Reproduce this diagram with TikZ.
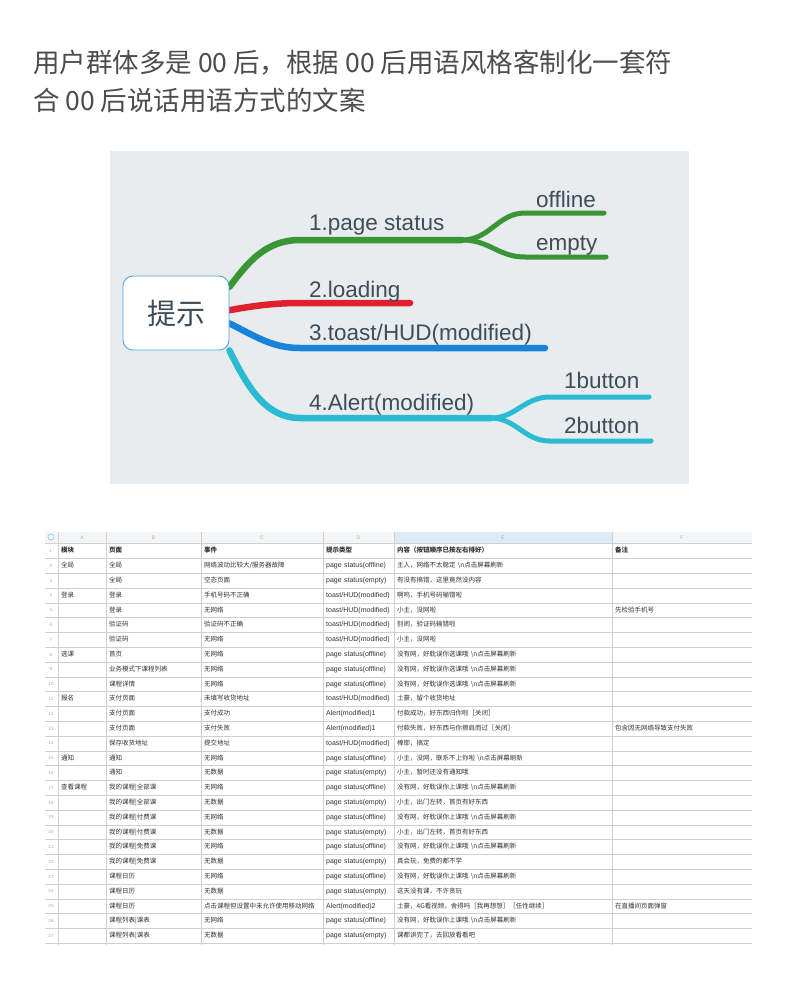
\documentclass[tikz,border=0pt]{standalone}
\usepackage{fontspec}
\setmainfont{Liberation Sans}
\newfontfamily\cjk{Noto Sans CJK SC}
\newfontfamily\latin{Liberation Sans}
\usepackage{tikz}
\usetikzlibrary{matrix, backgrounds}

\definecolor{panelGray}{HTML}{E8ECEF}
\definecolor{brGreen}{HTML}{3A9634}
\definecolor{brRed}{HTML}{E0202E}
\definecolor{brBlue}{HTML}{1784DA}
\definecolor{brCyan}{HTML}{2ABBD3}
\definecolor{inkText}{HTML}{3E4D59}
\definecolor{boxBlue}{HTML}{4FA3E3}
\definecolor{ttlInk}{HTML}{4D4D4D}
\definecolor{gridGray}{HTML}{CFCFCF}
\definecolor{cellInk}{HTML}{333333}
\definecolor{hdrBand}{HTML}{F4F5F6}
\definecolor{hdrSel}{HTML}{DDEAF8}
\definecolor{numInk}{HTML}{A8A8A8}

\newcommand\nettip{\textbackslash n点击屏幕刷新}

\tikzset{
  branch/.style={line width=6.5pt, line cap=round},
  twig/.style={line width=5pt, line cap=round},
  lbl/.style={anchor=base west, inner sep=0pt, text=inkText, font=\latin\fontsize{22.5}{26}\selectfont},
  ttl/.style={anchor=base west, inner sep=0pt, text=ttlInk, font=\cjk\fontsize{26.5}{30}\selectfont},
  gridln/.style={draw=gridGray, line width=0.6pt},
  tcell/.style={inner xsep=3pt, inner ysep=0pt, outer sep=0pt, minimum height=14.8pt,
    text height=5pt, text depth=1.5pt, align=left, text=cellInk, font=\cjk\fontsize{6.5}{8}\selectfont},
  colname/.style={text=numInk, font=\latin\fontsize{5}{6}\selectfont, inner sep=0pt},
  rownum/.style={text=numInk, font=\latin\fontsize{4.5}{5}\selectfont, inner sep=0pt}
}

\begin{document}
\begin{tikzpicture}[x=1pt, y=-1pt]
\useasboundingbox (0,0) rectangle (800,988);

% title
\node[ttl] (ttlA) at (33,72) {用户群体多是 00 后，根据 00 后用语风格客制化一套符};
\node[ttl] (ttlB) at (33,110) {合 00 后说话用语方式的文案};

% mind map
\node[draw=boxBlue, fill=white, line width=0.9pt, rounded corners=10pt,
      minimum width=106pt, minimum height=74pt, text=inkText,
      font=\cjk\fontsize{29}{32}\selectfont] (tip) at (176,313) {提示};

\node[lbl] (lblStatus) at (309,230) {1.page status};
\node[lbl] (lblOffline) at (536,207) {offline};
\node[lbl] (lblEmpty) at (536,250) {empty};
\node[lbl] (lblLoading) at (309,297) {2.loading};
\node[lbl] (lblToast) at (309,340) {3.toast/HUD(modified)};
\node[lbl] (lblAlert) at (309,410) {4.Alert(modified)};
\node[lbl] (lbl1btn) at (564,388) {1button};
\node[lbl] (lbl2btn) at (564,433) {2button};

\coordinate (fkStatus) at (462,240);
\coordinate (endOffline) at (604,213);
\coordinate (endEmpty) at (606,257);
\coordinate (endLoading) at (410,303);
\coordinate (endToast) at (545,348);
\coordinate (fkAlert) at (491,418);
\coordinate (end1btn) at (649,397);
\coordinate (end2btn) at (651,441);

\begin{scope}[on background layer]
\fill[white] (0,0) rectangle (800,988);
\fill[panelGray] (110,151) rectangle (689,484);
\draw[branch, brGreen] (tip.26) .. controls (248,262) and (266,240) .. (300,240) -- (fkStatus);
\draw[twig, brGreen] (fkStatus) .. controls (490,240) and (498,213) .. (525,213) -- (endOffline);
\draw[twig, brGreen] (fkStatus) .. controls (490,240) and (498,257) .. (525,257) -- (endEmpty);
\draw[branch, brRed] (tip.3) .. controls (258,305) and (278,303) .. (300,303) -- (endLoading);
\draw[branch, brBlue] (tip.-11) .. controls (255,336) and (272,348) .. (300,348) -- (endToast);
\draw[branch, brCyan] (tip.-35) .. controls (248,388) and (266,418) .. (300,418) -- (fkAlert);
\draw[twig, brCyan] (fkAlert) .. controls (516,418) and (524,397) .. (550,397) -- (end1btn);
\draw[twig, brCyan] (fkAlert) .. controls (516,418) and (524,441) .. (550,441) -- (end2btn);
\end{scope}

% sheet
\begin{scope}
\clip (40,528) rectangle (760,945);
\fill[hdrBand] (45,532) rectangle (752,543.6);
\fill[hdrSel] (394,532) rectangle (612,543.6);
\draw[draw=boxBlue!70, line width=0.5pt] (51,537) circle (3);
\foreach \k in {0,...,27}
  \draw[gridln] (45,{543.6+14.8*\k}) -- (752,{543.6+14.8*\k});
\foreach \x in {58,106,201,323,394,612}
  \draw[gridln] (\x,532) -- (\x,945);
\foreach \c/\x in {A/82,B/153.5,C/262,D/358.5,E/503,F/682}
  \node[colname] (col\c) at (\x,537.8) {\c};
\foreach \k in {1,...,27}
  \node[rownum] (rn\k) at (51,{536.2+14.8*\k}) {\k};

\matrix (tbl) [matrix of nodes, anchor=north west, inner sep=0pt,
  column sep=0pt, row sep=0pt, nodes={tcell},
  column 1/.style={nodes={text width=42pt}},
  column 2/.style={nodes={text width=89pt}},
  column 3/.style={nodes={text width=116pt}},
  column 4/.style={nodes={text width=65pt, font=\latin\fontsize{7}{8}\selectfont}},
  column 5/.style={nodes={text width=212pt}},
  column 6/.style={nodes={text width=134pt}},
  row 1/.style={nodes={font=\cjk\bfseries\fontsize{6.5}{8}\selectfont}}
] at (58,543.6) {
模块 & 页面 & 事件 & 提示类型 & 内容（按钮顺序已按左右排好） & 备注 \\
全局 & 全局 & 网络波动比较大/服务器故障 & page status(offline) & 主人，网络不太稳定 \nettip & \\
 & 全局 & 空态页面 & page status(empty) & 有没有搞错，这里竟然没内容 & \\
登录 & 登录 & 手机号码不正确 & toast/HUD(modified) & 啊呜，手机号码输错啦 & \\
 & 登录 & 无网络 & toast/HUD(modified) & 小主，没网啦 & 先检验手机号 \\
 & 验证码 & 验证码不正确 & toast/HUD(modified) & 别闹，验证码输错啦 & \\
 & 验证码 & 无网络 & toast/HUD(modified) & 小主，没网啦 & \\
选课 & 首页 & 无网络 & page status(offline) & 没有网，好耽误你选课哦 \nettip & \\
 & 业务模式下课程列表 & 无网络 & page status(offline) & 没有网，好耽误你选课哦 \nettip & \\
 & 课程详情 & 无网络 & page status(offline) & 没有网，好耽误你选课哦 \nettip & \\
报名 & 支付页面 & 未填写收货地址 & toast/HUD(modified) & 土豪，留个收货地址 & \\
 & 支付页面 & 支付成功 & Alert(modified)1 & 付款成功，好东西归你啦［关闭］ & \\
 & 支付页面 & 支付失败 & Alert(modified)1 & 付款失败，好东西与你擦肩而过［关闭］ & 包含因无网络导致支付失败 \\
 & 保存收货地址 & 提交地址 & toast/HUD(modified) & 棒耶，搞定 & \\
通知 & 通知 & 无网络 & page status(offline) & 小主，没网，联系不上你啦 \nettip & \\
 & 通知 & 无数据 & page status(empty) & 小主，暂时还没有通知哦 & \\
查看课程 & 我的课程|全部课 & 无网络 & page status(offline) & 没有网，好耽误你上课哦 \nettip & \\
 & 我的课程|全部课 & 无数据 & page status(empty) & 小主，出门左转，首页有好东西 & \\
 & 我的课程|付费课 & 无网络 & page status(offline) & 没有网，好耽误你上课哦 \nettip & \\
 & 我的课程|付费课 & 无数据 & page status(empty) & 小主，出门左转，首页有好东西 & \\
 & 我的课程|免费课 & 无网络 & page status(offline) & 没有网，好耽误你上课哦 \nettip & \\
 & 我的课程|免费课 & 无数据 & page status(empty) & 真会玩，免费的都不学 & \\
 & 课程日历 & 无网络 & page status(offline) & 没有网，好耽误你上课哦 \nettip & \\
 & 课程日历 & 无数据 & page status(empty) & 这天没有课，不许贪玩 & \\
 & 课程日历 & 点击课程但设置中未允许使用移动网络 & Alert(modified)2 & 土豪，4G看视频，舍得吗［我再想想］［任性继续］ & 在直播间页面弹窗 \\
 & 课程列表|课表 & 无网络 & page status(offline) & 没有网，好耽误你上课哦 \nettip & \\
 & 课程列表|课表 & 无数据 & page status(empty) & 课都讲完了，去回放看看吧 & \\
};
\end{scope}
\end{tikzpicture}
\end{document}
